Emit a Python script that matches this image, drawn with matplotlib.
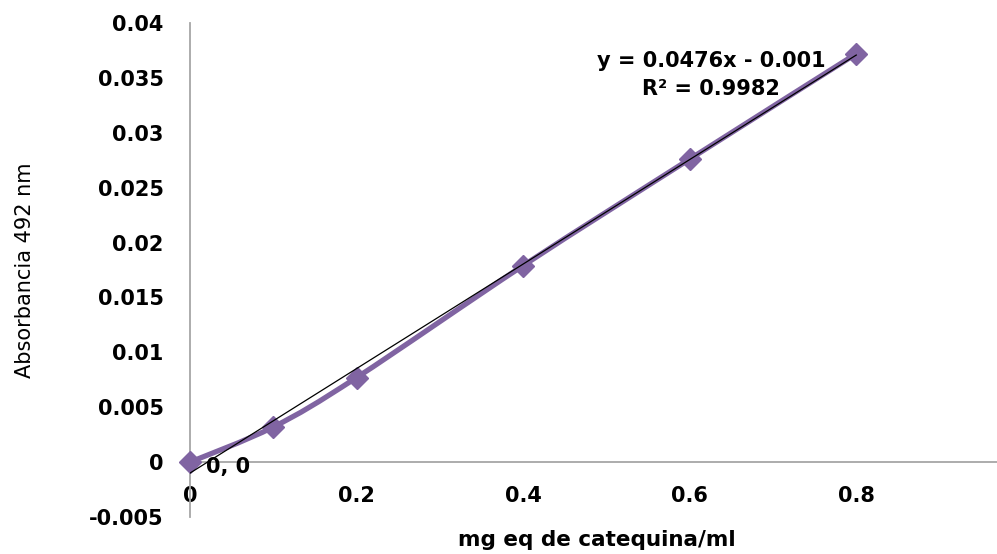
import numpy as np
import matplotlib.pyplot as plt
from matplotlib.path import Path
from matplotlib.patches import PathPatch

# datos de la curva de calibración
concentracion = [0, 0.1, 0.2, 0.4, 0.6, 0.8]
absorbancia = [0, 0.0032, 0.0077, 0.0179, 0.0276, 0.0372]
pendiente = 0.0476
intercepto = -0.001
r2 = 0.9982

morado = '#8064a2'
gris = '#a6a6a6'

fig = plt.figure(figsize=(9.97, 5.54), dpi=100)
ax = fig.add_axes([190 / 997, 1 - 517 / 554, 1 - 190 / 997, (517 - 23) / 554])

# línea suavizada (estilo Excel) con curvas de Bezier entre los puntos
px = np.array(concentracion)
py = np.array(absorbancia)
verts = [(px[0], py[0])]
codes = [Path.MOVETO]
n = len(px)
for i in range(n - 1):
    p0 = np.array([px[max(i - 1, 0)], py[max(i - 1, 0)]])
    p1 = np.array([px[i], py[i]])
    p2 = np.array([px[i + 1], py[i + 1]])
    p3 = np.array([px[min(i + 2, n - 1)], py[min(i + 2, n - 1)]])
    c1 = p1 + (p2 - p0) / 6
    c2 = p2 - (p3 - p1) / 6
    verts += [tuple(c1), tuple(c2), tuple(p2)]
    codes += [Path.CURVE4] * 3
ax.add_patch(PathPatch(Path(verts, codes), facecolor='none', edgecolor=morado,
                       lw=3.8, zorder=3, clip_on=False))
ax.plot(concentracion, absorbancia, linestyle='none', marker='D', ms=11,
        color=morado, zorder=4, clip_on=False)

# línea de tendencia lineal
xt = np.array([0, max(concentracion)])
ax.plot(xt, pendiente * xt + intercepto, color='black', lw=0.9, zorder=5)

ax.set_xlim(0, 0.969)
ax.set_ylim(-0.005, 0.04)
ax.set_xticks([0, 0.2, 0.4, 0.6, 0.8])
ax.set_xticklabels(['0', '0.2', '0.4', '0.6', '0.8'])
ax.set_yticks(np.arange(-0.005, 0.0401, 0.005))
ax.set_yticklabels(['-0.005', '0', '0.005', '0.01', '0.015', '0.02',
                    '0.025', '0.03', '0.035', '0.04'])

for s in ['top', 'right']:
    ax.spines[s].set_visible(False)
ax.spines['left'].set_position(('data', 0))
ax.spines['bottom'].set_position(('data', 0))
ax.spines['left'].set_color(gris)
ax.spines['bottom'].set_color(gris)
ax.spines['left'].set_linewidth(1.3)
ax.spines['bottom'].set_linewidth(1.3)
ax.tick_params(axis='x', length=0, pad=17, labelsize=15)
ax.tick_params(axis='y', length=0, pad=19, labelsize=15)
for lab in ax.get_xticklabels() + ax.get_yticklabels():
    lab.set_fontweight('bold')

fig.text(25 / 997, 1 - 270 / 554, 'Absorbancia 492 nm', rotation=90,
         ha='center', va='center', fontsize=15)
fig.text(597 / 997, 1 - 540 / 554, 'mg eq de catequina/ml', ha='center',
         va='center', fontsize=15.5, fontweight='bold')

ax.text(0.019, -0.0004, '0, 0', ha='left', va='center', fontsize=15,
        fontweight='bold')
ax.text(0.626, 0.0365, f'y = {pendiente}x - {abs(intercepto)}', ha='center',
        va='center', fontsize=15, fontweight='bold')
ax.text(0.626, 0.0340, f'R² = {r2}', ha='center', va='center', fontsize=15,
        fontweight='bold')

plt.savefig('out.png', dpi=100)
